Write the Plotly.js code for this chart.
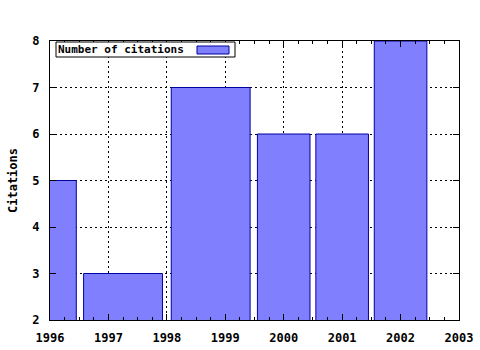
<!DOCTYPE html>
<html>
<head>
<meta charset="utf-8">
<script src="https://cdn.plot.ly/plotly-3.0.1.min.js"></script>
<style>html,body{margin:0;padding:0;background:#fff;}#chart{width:480px;height:350px;}</style>
</head>
<body>
<div id="chart"></div>
<script>
// Data
const years = [1996, 1997, 1999, 2000, 2001, 2002];
const citations = [5, 3, 7, 6, 6, 8];
const seriesName = "Number of citations";
const yTitle = "Citations";

// gnuplot-style boxes: each box spans halfway to its neighbours, scaled by 0.9
const boxRel = 0.9;
const centers = [], widths = [];
for (let i = 0; i < years.length; i++) {
  const left = i > 0 ? (years[i - 1] + years[i]) / 2 : years[i] - (years[1] - years[0]) / 2;
  const right = i < years.length - 1 ? (years[i] + years[i + 1]) / 2 : years[i] + (years[i] - years[i - 1]) / 2;
  centers.push((left + right) / 2);
  widths.push((right - left) * boxRel);
}

const FONT = "DejaVu Sans Mono, Liberation Mono, monospace";
const fontSpec = {family: FONT, size: 12, color: "#000", weight: "bold"};
const legendFont = {family: FONT, size: 11, color: "#000", weight: "bold"};

const trace = {
  type: "bar",
  x: centers,
  y: citations,
  width: widths,
  name: seriesName,
  marker: {color: "#8080ff", line: {color: "#0000a0", width: 1}},
  showlegend: false,
  hoverinfo: "skip"
};

function px2x(p) { return (p - 50) / 409; }
function px2y(p) { return (320 - p) / 279; }

const layout = {
  width: 480, height: 350,
  margin: {l: 50, r: 21, t: 41, b: 30, pad: 0},
  paper_bgcolor: "#fff", plot_bgcolor: "#fff",
  font: fontSpec,
  showlegend: false,
  xaxis: {
    range: [1996, 2003], dtick: 1, tick0: 1996,
    ticks: "inside", ticklen: 6, tickcolor: "#000", tickwidth: 1,
    showline: true, linecolor: "#000", linewidth: 1, mirror: "allticks",
    showgrid: true, gridcolor: "#000", gridwidth: 1, griddash: "2px,3px",
    zeroline: false, tickfont: fontSpec, ticklabelstandoff: 7,
    minor: {dtick: 0.25, ticks: "inside", ticklen: 3, tickcolor: "#000", showgrid: false}
  },
  yaxis: {
    range: [2, 8], dtick: 1, tick0: 2,
    ticks: "inside", ticklen: 6, tickcolor: "#000", tickwidth: 1,
    showline: true, linecolor: "#000", linewidth: 1, mirror: "allticks",
    showgrid: true, gridcolor: "#000", gridwidth: 1, griddash: "2px,3px",
    zeroline: false, tickfont: fontSpec, ticklabelstandoff: 7,
    title: {text: yTitle, font: fontSpec, standoff: 12}
  },
  shapes: [
    {type: "rect", xref: "paper", yref: "paper", layer: "above",
     x0: px2x(56), x1: px2x(235), y0: px2y(57), y1: px2y(42),
     fillcolor: "#fff", line: {color: "#000", width: 1}},
    {type: "rect", xref: "paper", yref: "paper", layer: "above",
     x0: px2x(197), x1: px2x(229), y0: px2y(54), y1: px2y(46),
     fillcolor: "#8080ff", line: {color: "#0000a0", width: 1}}
  ],
  annotations: [
    {xref: "paper", yref: "paper", x: px2x(56), y: px2y(50), xanchor: "left", yanchor: "middle",
     text: seriesName, showarrow: false, font: legendFont}
  ]
};

Plotly.newPlot("chart", [trace], layout, {displayModeBar: false, staticPlot: true});
</script>
</body>
</html>
